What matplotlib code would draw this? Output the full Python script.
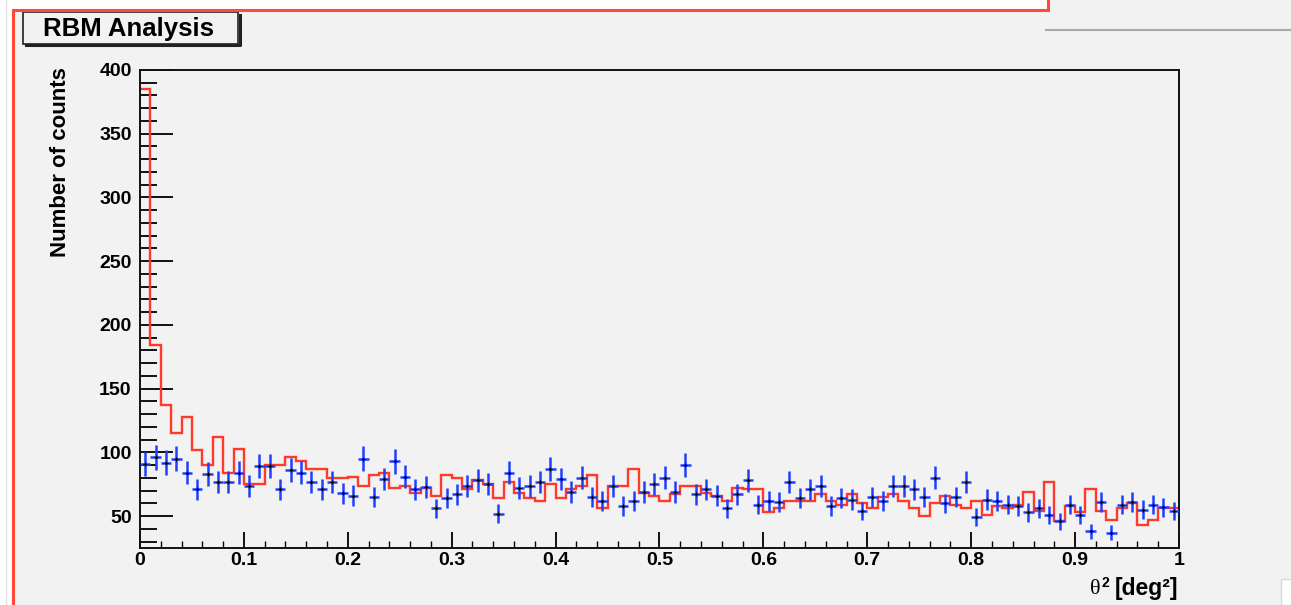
import numpy as np
import matplotlib
matplotlib.use('Agg')
import matplotlib.pyplot as plt
from matplotlib.patches import Rectangle
from matplotlib.lines import Line2D
from matplotlib.ticker import MultipleLocator

plt.rcParams['font.family'] = ['Liberation Sans', 'DejaVu Sans']

# theta^2 histogram, 100 bins from 0 to 1
edges = np.linspace(0, 1, 101)
centers = 0.5 * (edges[:-1] + edges[1:])

# red: expected / ON histogram (step line)
red_counts = [385, 184, 137, 115, 128, 102, 90, 112, 84, 103,
              75, 75, 90, 90, 96, 93, 87, 87, 80, 80,
              81, 74, 82, 84, 72, 74, 68, 72, 66, 82,
              80, 71, 78, 75, 64, 77, 68, 64, 62, 75,
              64, 71, 74, 82, 56, 74, 74, 87, 68, 66,
              62, 67, 74, 74, 68, 66, 62, 72, 71, 71,
              53, 56, 62, 62, 62, 67, 62, 59, 67, 60,
              56, 65, 67, 62, 56, 50, 60, 66, 59, 56,
              62, 51, 58, 56, 59, 69, 54, 77, 46, 58,
              53, 71, 54, 47, 56, 60, 43, 47, 56, 56]

# blue: background points with sqrt(N) errors
blue_counts = [91, 96, 92, 95, 84, 71, 83, 77, 77, 84,
               74, 89, 89, 71, 86, 84, 77, 71, 77, 68,
               66, 95, 65, 79, 93, 81, 71, 73, 56, 64,
               67, 74, 78, 75, 52, 84, 72, 74, 77, 87,
               79, 69, 80, 65, 62, 74, 58, 62, 69, 75,
               80, 69, 90, 67, 71, 66, 56, 67, 78, 59,
               62, 61, 77, 64, 71, 74, 58, 64, 63, 54,
               65, 62, 74, 74, 71, 65, 80, 60, 65, 77,
               49, 63, 62, 59, 58, 53, 56, 51, 46, 59,
               51, 38, 61, 37, 59, 61, 55, 59, 57, 54]

W, H = 1291, 605
def fx(x):
    return x / W
def fy(y):
    return 1 - y / H

fig = plt.figure(figsize=(W / 100, H / 100), dpi=100, facecolor='white')
bg = '#f2f2f2'

# canvas pieces around the pad
fig.add_artist(Rectangle((fx(12), 0), fx(W - 12), (H - 9.5) / H, transform=fig.transFigure,
                         facecolor=bg, edgecolor='none', zorder=-10))
fig.add_artist(Rectangle((fx(1048), fy(29.5)), fx(W - 1048), 29.5 / H, transform=fig.transFigure,
                         facecolor=bg, edgecolor='none', zorder=-10))
fig.add_artist(Line2D([fx(1046), fx(W)], [fy(29.5), fy(29.5)], transform=fig.transFigure,
                      color='#a9a9a9', lw=1.5))
fig.add_artist(Line2D([fx(6), fx(6)], [0, 1], transform=fig.transFigure, color='#e2e2e2', lw=1))
fig.add_artist(Line2D([fx(13), fx(13), fx(1047.5), fx(1047.5)], [0, fy(9.5), fy(9.5), 1],
                      transform=fig.transFigure, color='#ff4a3a', lw=2.2, solid_joinstyle='miter'))
fig.add_artist(Rectangle((fx(1281), 0), fx(12), (H - 579) / H, transform=fig.transFigure,
                         facecolor='white', edgecolor='#d8d8d8', lw=1))

# title box with shadow
fig.add_artist(Line2D([fx(26), fx(239.5), fx(239.5)], [fy(45), fy(45), fy(15)],
                      transform=fig.transFigure, color='#222222', lw=2.2))
fig.add_artist(Rectangle((fx(23), fy(44)), fx(215), 32 / H, transform=fig.transFigure,
                         facecolor=bg, edgecolor='#222222', lw=1.2))
fig.text(fx(128.5), fy(29), 'RBM Analysis', ha='center', va='center',
         fontsize=18.5, fontweight='bold')

ax = fig.add_axes([fx(140), fy(548), fx(1179 - 140), (548 - 70) / H])
ax.set_facecolor(bg)

ax.stairs(red_counts, edges, color='#ff3a2a', lw=1.7, baseline=None, zorder=2)
ax.errorbar(centers, blue_counts, yerr=np.sqrt(blue_counts), xerr=0.005, fmt='none',
            ecolor='#1f40ff', elinewidth=1.8, capsize=0, zorder=3)
ax.plot(centers, blue_counts, ls='none', marker='+', color='black', ms=3.5, mew=0.8, zorder=4)

ax.set_xlim(0, 1)
ax.set_ylim(25, 400)
ax.xaxis.set_minor_locator(MultipleLocator(0.02))
ax.yaxis.set_minor_locator(MultipleLocator(10))
ax.set_xticks(np.arange(0, 1.01, 0.1))
ax.set_xticklabels(['0', '0.1', '0.2', '0.3', '0.4', '0.5', '0.6', '0.7', '0.8', '0.9', '1'])
ax.set_yticks([50, 100, 150, 200, 250, 300, 350, 400])

ax.tick_params(axis='x', which='major', direction='in', length=11.5, width=1.3, pad=3,
               labelsize=14)
ax.tick_params(axis='x', which='minor', direction='in', length=5, width=1.0)
ax.tick_params(axis='y', which='major', direction='in', length=24, width=1.3, pad=6,
               labelsize=14)
ax.tick_params(axis='y', which='minor', direction='in', length=12, width=1.3)
for lab in ax.get_xticklabels() + ax.get_yticklabels():
    lab.set_fontweight('bold')
for sp in ax.spines.values():
    sp.set_linewidth(1.4)
    sp.set_color('#111111')

fig.text(fx(60), fy(67), 'Number of counts', rotation=90, ha='center', va='top',
         fontsize=16, fontweight='bold')
fig.text(fx(1178), fy(589), '[deg\u00b2]', ha='right', va='center',
         fontsize=16.5, fontweight='bold')
fig.text(fx(1090), fy(589), '\u03b8', ha='left', va='center',
         fontsize=16, family=['Liberation Serif', 'DejaVu Serif'])
fig.text(fx(1101), fy(583), '2', ha='left', va='center',
         fontsize=10, fontweight='bold')

fig.savefig('out.png', dpi=100, facecolor='white')
